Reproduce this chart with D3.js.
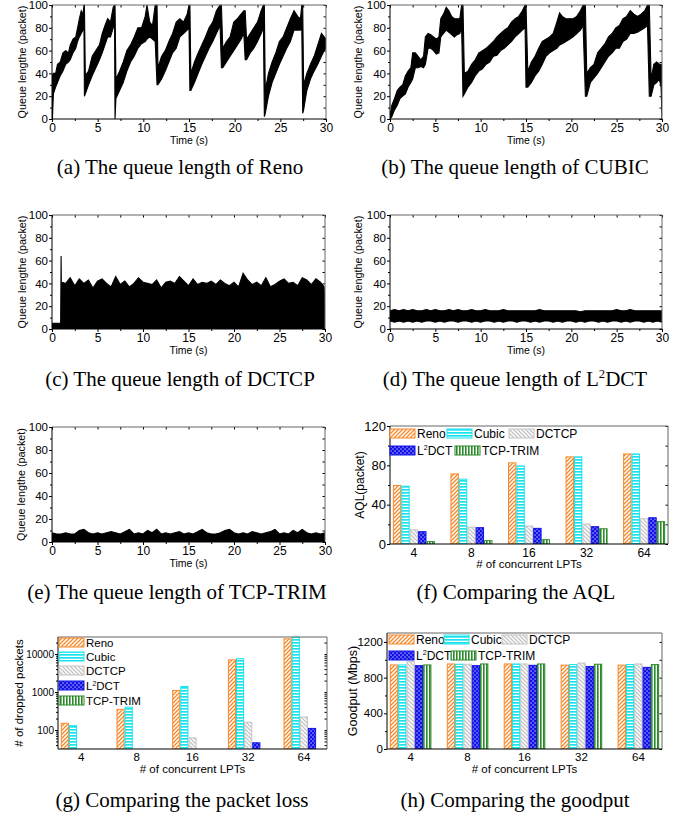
<!DOCTYPE html>
<html>
<head>
<meta charset="utf-8">
<script src="https://cdn.jsdelivr.net/npm/d3@7"></script>
<style>
  body { margin: 0; background: #fff; }
</style>
</head>
<body>
<svg id="chart" width="686" height="814"></svg>
<script>
// ---------- data ----------
const timeTicks = [0, 5, 10, 15, 20, 25, 30];
const timeMinor = [2.5, 7.5, 12.5, 17.5, 22.5, 27.5];
const queueTicks = [0, 20, 40, 60, 80, 100];
const queueMinor = [10, 30, 50, 70, 90];

// (a) Reno queue: envelope of the trace
const renoT  = [0, 0.05, 0.15, 0.4, 0.6, 0.9, 1.2, 1.5, 1.8, 2.0, 2.3, 2.6, 2.8, 3.0, 3.2, 3.4, 3.5, 3.55, 3.65, 4.0, 4.4, 4.8, 5.2, 5.5, 5.8, 6.1, 6.4, 6.7, 6.85, 6.9, 7.0, 7.4, 7.8, 8.2, 8.6, 9.0, 9.4, 9.8, 10.2, 10.4, 10.7, 11.0, 11.3, 11.5, 11.6, 12.0, 12.4, 12.8, 13.2, 13.6, 14.0, 14.4, 14.8, 15.0, 15.1, 15.2, 15.6, 16.0, 16.4, 16.8, 17.2, 17.6, 18.0, 18.4, 18.55, 18.7, 19.1, 19.5, 19.9, 20.3, 20.7, 21.0, 21.15, 21.3, 21.7, 22.1, 22.5, 22.9, 23.15, 23.25, 23.35, 23.7, 24.1, 24.5, 24.9, 25.3, 25.7, 26.1, 26.5, 26.9, 27.2, 27.35, 27.45, 27.55, 27.9, 28.3, 28.7, 29.1, 29.5, 29.8, 30.0];
const renoLo = [0, 0, 22, 28, 32, 38, 42, 48, 50, 52, 58, 62, 68, 72, 75, 78, 80, 20, 22, 30, 38, 45, 52, 58, 65, 72, 72, 80, 82, 0, 18, 25, 32, 42, 50, 55, 62, 66, 68, 70, 72, 70, 68, 30, 30, 35, 42, 50, 58, 62, 72, 75, 78, 80, 25, 25, 32, 40, 48, 55, 62, 68, 75, 82, 45, 45, 50, 55, 60, 65, 70, 75, 52, 52, 58, 62, 68, 75, 80, 2, 5, 20, 32, 40, 48, 55, 62, 68, 78, 78, 78, 80, 5, 8, 25, 35, 42, 48, 55, 60, 62];
const renoHi = [0, 38, 40, 40, 48, 50, 58, 60, 58, 65, 70, 72, 80, 88, 95, 92, 100, 100, 38, 42, 55, 60, 65, 75, 82, 88, 85, 98, 100, 100, 35, 42, 50, 60, 65, 72, 80, 80, 90, 100, 85, 82, 100, 100, 45, 55, 60, 68, 75, 85, 88, 85, 92, 100, 100, 40, 50, 58, 65, 72, 80, 85, 95, 100, 100, 62, 68, 72, 85, 88, 92, 95, 95, 70, 75, 80, 85, 95, 100, 100, 25, 40, 50, 58, 68, 72, 80, 88, 95, 90, 88, 100, 100, 30, 40, 48, 55, 65, 75, 72, 70];

// (b) CUBIC queue
const cubicT  = [0, 0.2, 0.5, 0.8, 1.1, 1.4, 1.7, 2.0, 2.3, 2.5, 2.8, 3.1, 3.4, 3.7, 3.9, 4.2, 4.5, 4.8, 5.1, 5.4, 5.6, 5.9, 6.2, 6.5, 6.8, 7.1, 7.4, 7.7, 7.9, 8.05, 8.2, 8.6, 9.0, 9.4, 9.8, 10.2, 10.6, 11.0, 11.4, 11.8, 12.2, 12.6, 13.0, 13.4, 13.8, 14.2, 14.6, 14.9, 15.0, 15.2, 15.6, 16.0, 16.4, 16.8, 17.2, 17.6, 18.0, 18.4, 18.7, 19.0, 19.4, 19.8, 20.2, 20.6, 21.0, 21.3, 21.55, 21.7, 22.1, 22.5, 22.9, 23.3, 23.7, 24.1, 24.5, 24.9, 25.3, 25.7, 26.1, 26.5, 26.9, 27.3, 27.7, 28.1, 28.4, 28.6, 28.8, 29.1, 29.4, 29.7, 29.9, 30.0];
const cubicLo = [0, 2, 8, 12, 18, 20, 22, 28, 32, 35, 45, 45, 46, 45, 48, 62, 62, 60, 57, 58, 72, 75, 78, 76, 74, 72, 74, 75, 80, 20, 22, 28, 32, 38, 42, 44, 48, 50, 55, 56, 60, 62, 65, 68, 72, 75, 78, 80, 28, 28, 32, 38, 42, 48, 55, 58, 60, 62, 65, 66, 68, 70, 72, 75, 78, 82, 20, 20, 32, 36, 40, 45, 50, 55, 58, 62, 62, 68, 70, 75, 75, 76, 78, 80, 82, 20, 20, 30, 32, 35, 28, 0];
const cubicHi = [2, 12, 18, 25, 28, 30, 38, 42, 45, 58, 58, 55, 52, 55, 72, 75, 74, 72, 70, 72, 88, 92, 98, 95, 90, 88, 88, 88, 100, 100, 40, 42, 48, 52, 58, 60, 62, 65, 68, 72, 75, 78, 80, 85, 88, 90, 95, 100, 100, 42, 50, 55, 62, 68, 70, 72, 75, 85, 93, 90, 88, 88, 88, 90, 95, 100, 100, 40, 45, 48, 58, 62, 66, 72, 75, 80, 82, 88, 90, 95, 92, 90, 92, 95, 100, 100, 35, 48, 50, 48, 48, 48];

// (c) DCTCP queue (upper edge)
const dctcpT  = [0, 0.95, 1.0, 1.05, 1.1, 1.5, 2, 2.5, 3, 3.5, 4, 4.5, 5, 5.5, 6, 6.5, 7, 7.5, 8, 8.5, 9, 9.5, 10, 10.5, 11, 11.5, 12, 12.5, 13, 13.5, 14, 14.5, 15, 15.5, 16, 16.5, 17, 17.5, 18, 18.5, 19, 19.5, 20, 20.5, 21, 21.5, 22, 22.5, 23, 23.5, 24, 24.5, 25, 25.5, 26, 26.5, 27, 27.5, 28, 28.5, 29, 29.5, 29.9, 30];
const dctcpHi = [5, 5, 64, 5, 41, 40, 45, 38, 44, 40, 43, 36, 42, 44, 40, 37, 46, 39, 42, 37, 40, 45, 41, 40, 39, 43, 36, 41, 42, 40, 46, 42, 38, 44, 39, 41, 40, 42, 39, 43, 40, 38, 41, 37, 49, 43, 39, 41, 38, 45, 37, 39, 42, 44, 40, 41, 38, 45, 43, 39, 44, 41, 37, 20];

// (d) L2DCT queue
const l2dctT  = [0, 0.5, 1, 1.5, 2, 2.5, 3, 3.5, 4, 4.5, 5, 5.5, 6, 6.5, 7, 7.5, 8, 8.5, 9, 9.5, 10, 10.5, 11, 11.5, 12, 12.5, 13, 13.5, 14, 14.5, 15, 15.5, 16, 16.5, 17, 17.5, 18, 18.5, 19, 19.5, 20, 20.5, 21, 21.5, 22, 22.5, 23, 23.5, 24, 24.5, 25, 25.5, 26, 26.5, 27, 27.5, 28, 28.5, 29, 29.5, 30];
const l2dctLo = [7, 6, 7, 6, 7, 6, 7, 6, 7, 7, 6, 7, 6, 7, 7, 6, 7, 7, 6, 7, 6, 7, 7, 6, 7, 6, 7, 7, 6, 7, 7, 6, 7, 6, 7, 7, 6, 7, 6, 7, 7, 6, 7, 6, 7, 7, 6, 7, 6, 7, 7, 6, 7, 6, 7, 7, 6, 7, 6, 7, 6];
const l2dctHi = [16, 17, 16, 17, 16, 17, 16, 16, 17, 16, 17, 16, 16, 17, 16, 17, 16, 16, 17, 16, 16, 17, 16, 16, 16, 17, 16, 16, 16, 16, 16, 16, 16, 17, 16, 16, 16, 16, 16, 16, 16, 16, 15, 16, 16, 16, 16, 16, 16, 16, 17, 16, 16, 17, 16, 16, 16, 16, 16, 16, 16];

// (e) TCP-TRIM queue (upper edge, from 0)
const trimT  = l2dctT;
const trimHi = [8, 7, 7, 8, 7, 7, 10, 11, 8, 7, 8, 7, 8, 9, 8, 7, 9, 11, 7, 8, 7, 10, 8, 11, 7, 8, 7, 8, 9, 7, 8, 7, 9, 11, 8, 7, 7, 8, 10, 11, 8, 7, 8, 7, 9, 8, 7, 8, 9, 11, 7, 8, 7, 10, 8, 11, 8, 7, 8, 7, 8];

// bar charts
const lpts = ["4", "8", "16", "32", "64"];
const protocols = ["Reno", "Cubic", "DCTCP", "L2DCT", "TCP-TRIM"];

const aqlReno  = [59.5, 71.3, 82.5, 88.6, 91.6];
const aqlCubic = [58.8, 65.9, 79.4, 88.6, 91.6];
const aqlDctcp = [14.5, 17.2, 18.3, 20.3, 25.7];
const aqlL2dct = [12.5, 16.6, 15.9, 17.6, 26.7];
const aqlTrim  = [2.4, 3.4, 4.4, 15.5, 22.7];

const dropReno  = [150, 350, 1100, 7000, 25000];
const dropCubic = [130, 400, 1400, 7500, 28000];
const dropDctcp = [null, null, 62, 160, 220];
const dropL2dct = [null, null, null, 46, 110];
const dropTrim  = [null, null, null, null, null];

const gpReno  = [942, 953, 953, 940, 940];
const gpCubic = [942, 950, 953, 946, 946];
const gpDctcp = [979, 950, 953, 963, 953];
const gpL2dct = [934, 934, 938, 925, 915];
const gpTrim  = [942, 953, 953, 950, 946];

const aqlTicks = [0, 40, 80, 120];
const aqlMinor = [20, 60, 100];
const dropTicks = [100, 1000, 10000];
const gpTicks = [0, 400, 800, 1200];
const gpMinor = [200, 600, 1000];

// ---------- drawing ----------
const SANS = "'Liberation Sans', Arial, Helvetica, sans-serif";
const SERIF = "'Liberation Serif', 'Times New Roman', serif";
const svg = d3.select("#chart");
const defs = svg.append("defs");

const colors = {
  "Reno": "#f7892a", "Cubic": "#19e3ee", "DCTCP": "#c4c4c4", "L2DCT": "#1212e8", "TCP-TRIM": "#2a8a2a"
};

// fill patterns, one per protocol
function pattern(id, w, h) {
  const p = defs.append("pattern").attr("id", id).attr("patternUnits", "userSpaceOnUse")
    .attr("width", w).attr("height", h);
  return p;
}
let p = pattern("pat-Reno", 4, 4);
p.append("rect").attr("width", 4).attr("height", 4).attr("fill", "#fff");
p.append("path").attr("d", "M0,4L4,0M-1,1L1,-1M3,5L5,3").attr("stroke", colors["Reno"]).attr("stroke-width", 1.3);
p = pattern("pat-Cubic", 4, 3);
p.append("rect").attr("width", 4).attr("height", 3).attr("fill", "#fff");
p.append("rect").attr("width", 4).attr("height", 1.7).attr("fill", colors["Cubic"]);
p = pattern("pat-DCTCP", 4, 4);
p.append("rect").attr("width", 4).attr("height", 4).attr("fill", "#fff");
p.append("path").attr("d", "M0,0L4,4M-1,3L1,5M3,-1L5,1").attr("stroke", colors["DCTCP"]).attr("stroke-width", 1.3);
p = pattern("pat-L2DCT", 4, 4);
p.append("rect").attr("width", 4).attr("height", 4).attr("fill", colors["L2DCT"]);
p.append("rect").attr("x", 0.5).attr("y", 0.5).attr("width", 1.1).attr("height", 1.1).attr("fill", "#fff");
p.append("rect").attr("x", 2.5).attr("y", 2.5).attr("width", 1.1).attr("height", 1.1).attr("fill", "#fff");
p = pattern("pat-TCP-TRIM", 3, 4);
p.append("rect").attr("width", 3).attr("height", 4).attr("fill", "#fff");
p.append("rect").attr("width", 1.6).attr("height", 4).attr("fill", colors["TCP-TRIM"]);

function styleAxis(sel, fs) {
  sel.select(".domain").remove();
  sel.selectAll("line").attr("stroke", "#000");
  sel.selectAll("text").attr("font-family", SANS).attr("font-size", fs).attr("fill", "#000");
}

// box frame with outward major/minor ticks left & bottom, inward ticks top & right
function frame(g, box, x, y, o) {
  const xfs = o.xfs, yfs = o.yfs;
  if (o.xMajor) {
    g.append("g").attr("transform", `translate(0,${box.y1})`)
      .call(d3.axisBottom(x).tickValues(o.xMajor).tickSize(3).tickPadding(1).tickFormat(d3.format("d")))
      .call(s => styleAxis(s, xfs));
    g.append("g").attr("transform", `translate(0,${box.y1})`)
      .call(d3.axisBottom(x).tickValues(o.xMinor).tickSize(2).tickFormat(""))
      .call(s => styleAxis(s, xfs));
    g.append("g").attr("transform", `translate(0,${box.y0})`)
      .call(d3.axisTop(x).tickValues(o.xMajor.concat(o.xMinor)).tickSize(-2.5).tickFormat(""))
      .call(s => styleAxis(s, xfs));
  } else {
    g.append("g").attr("transform", `translate(0,${box.y1})`)
      .call(d3.axisBottom(x).tickSize(0).tickPadding(4))
      .call(s => styleAxis(s, xfs));
  }
  g.append("g").attr("transform", `translate(${box.x0},0)`)
    .call(d3.axisLeft(y).tickValues(o.yMajor).tickSize(3).tickPadding(1).tickFormat(d3.format("d")))
    .call(s => styleAxis(s, yfs));
  g.append("g").attr("transform", `translate(${box.x0},0)`)
    .call(d3.axisLeft(y).tickValues(o.yMinor).tickSize(2).tickFormat(""))
    .call(s => styleAxis(s, yfs));
  g.append("g").attr("transform", `translate(${box.x1},0)`)
    .call(d3.axisRight(y).tickValues(o.yMajor.concat(o.yMinor)).tickSize(-2.5).tickFormat(""))
    .call(s => styleAxis(s, yfs));
  g.append("path")
    .attr("d", `M${box.x0},${box.y0}H${box.x1}V${box.y1}`)
    .attr("fill", "none").attr("stroke", "#666").attr("stroke-width", 1);
  g.append("path")
    .attr("d", `M${box.x0},${box.y0}V${box.y1}H${box.x1}`)
    .attr("fill", "none").attr("stroke", "#000").attr("stroke-width", 1);
}

function yTitle(g, txt, x, box, fs) {
  g.append("text")
    .attr("transform", `translate(${x},${(box.y0 + box.y1) / 2}) rotate(-90)`)
    .attr("text-anchor", "middle").attr("dy", "0.35em")
    .attr("font-family", SANS).attr("font-size", fs)
    .text(txt);
}
function xTitle(g, txt, box, fs, dy) {
  g.append("text")
    .attr("x", (box.x0 + box.x1) / 2).attr("y", box.y1 + dy)
    .attr("text-anchor", "middle")
    .attr("font-family", SANS).attr("font-size", fs)
    .text(txt);
}

// label with an optional superscript "2" (for L2DCT)
function richText(sel, txt, fs) {
  const i = txt.indexOf("L2DCT");
  if (i < 0) { sel.text(txt); return; }
  sel.append("tspan").text(txt.slice(0, i) + "L");
  sel.append("tspan").attr("font-size", fs * 0.6).attr("dy", -fs * 0.38).text("2");
  sel.append("tspan").attr("dy", fs * 0.38).text("DCT" + txt.slice(i + 5));
}

function caption(txt, cx, base) {
  const t = svg.append("text")
    .attr("x", cx).attr("y", base).attr("text-anchor", "middle")
    .attr("font-family", SERIF).attr("font-size", 21)
    .attr("fill", "#000");
  richText(t, txt, 21);
}

let clipN = 0;
function clip(box) {
  const id = "clip" + (clipN++);
  defs.append("clipPath").attr("id", id).append("rect")
    .attr("x", box.x0).attr("y", box.y0 - 0.5)
    .attr("width", box.x1 - box.x0).attr("height", box.y1 - box.y0 + 0.5);
  return `url(#${id})`;
}

function queuePanel(box, t, lo, hi, titleX) {
  const g = svg.append("g");
  const x = d3.scaleLinear().domain([0, 30]).range([box.x0, box.x1]);
  const y = d3.scaleLinear().domain([0, 100]).range([box.y1, box.y0]);
  const area = d3.area()
    .x((d, i) => x(t[i]))
    .y0((d, i) => y(lo ? lo[i] : 0))
    .y1((d, i) => y(hi[i]));
  g.append("path").datum(t)
    .attr("clip-path", clip(box))
    .attr("d", area)
    .attr("fill", "#000").attr("stroke", "#000").attr("stroke-width", 1.1)
    .attr("stroke-linejoin", "miter");
  frame(g, box, x, y, { xMajor: timeTicks, xMinor: timeMinor, yMajor: queueTicks, yMinor: queueMinor, xfs: 12, yfs: 11.5 });
  yTitle(g, "Queue lengthe (packet)", titleX, box, 10.8);
  xTitle(g, "Time (s)", box, 10.5, 25);
}

function barPanel(box, y, series, o) {
  const g = svg.append("g");
  const x0 = d3.scaleBand().domain(lpts).range([box.x0, box.x1]).paddingInner(0.27).paddingOuter(0.05);
  const x1 = d3.scaleBand().domain(protocols).range([0, x0.bandwidth()]);
  const base = y.range()[0];
  const rows = [];
  lpts.forEach((c, ci) => protocols.forEach((pname, pi) => {
    const v = series[pi][ci];
    if (v != null) rows.push({ c: c, p: pname, v: v });
  }));
  g.append("g").attr("clip-path", clip(box))
    .selectAll("rect").data(rows).join("rect")
    .attr("x", d => x0(d.c) + x1(d.p) + 0.5)
    .attr("y", d => y(d.v))
    .attr("width", x1.bandwidth() - 1)
    .attr("height", d => base - y(d.v))
    .attr("fill", d => `url(#pat-${d.p})`)
    .attr("stroke", d => colors[d.p]).attr("stroke-width", 1);
  frame(g, box, x0, y, { yMajor: o.yMajor, yMinor: o.yMinor, xfs: o.xfs, yfs: o.yfs });
  yTitle(g, o.yTitle, o.titleX, box, o.tfs);
  xTitle(g, "# of concurrent LPTs", box, o.xtfs, 24);
  // legend
  const lg = g.append("g");
  protocols.forEach((pname, i) => {
    const pos = o.legend[i];
    lg.append("rect").attr("x", pos[0]).attr("y", pos[1]).attr("width", 25).attr("height", 9)
      .attr("fill", `url(#pat-${pname})`).attr("stroke", colors[pname]).attr("stroke-width", 1);
    const t = lg.append("text").attr("x", pos[0] + 27).attr("y", pos[1] + 9)
      .attr("font-family", SANS).attr("font-size", o.lfs);
    richText(t, pname, o.lfs);
  });
}

// ----- panels -----
const boxA = { x0: 52, x1: 326, y0: 5, y1: 119 };
const boxB = { x0: 390, x1: 662, y0: 5, y1: 119 };
const boxC = { x0: 52, x1: 325, y0: 215, y1: 329 };
const boxD = { x0: 390, x1: 662, y0: 215, y1: 329 };
const boxE = { x0: 52, x1: 325, y0: 427, y1: 542 };
const boxF = { x0: 390, x1: 668, y0: 426, y1: 544 };
const boxG = { x0: 58, x1: 327, y0: 637, y1: 749 };
const boxH = { x0: 387, x1: 662, y0: 633, y1: 749 };

queuePanel(boxA, renoT, renoLo, renoHi, 22);
queuePanel(boxB, cubicT, cubicLo, cubicHi, 358);
queuePanel(boxC, dctcpT, null, dctcpHi, 22);
queuePanel(boxD, l2dctT, l2dctLo, l2dctHi, 358);
queuePanel(boxE, trimT, null, trimHi, 21);

barPanel(boxF, d3.scaleLinear().domain([0, 120]).range([boxF.y1, boxF.y0]),
  [aqlReno, aqlCubic, aqlDctcp, aqlL2dct, aqlTrim],
  { yMajor: aqlTicks, yMinor: aqlMinor, yTitle: "AQL(packet)", titleX: 360,
    xfs: 12, yfs: 13, tfs: 12, xtfs: 11.5, lfs: 12,
    legend: [[390, 429], [447, 429], [509, 429], [390, 446], [455, 446]] });

const dropMinor = [];
[10, 100, 1000, 10000].forEach(k => [2, 3, 4, 5, 6, 7, 8, 9].forEach(m => {
  const v = k * m; if (v > 31.6 && v < 28000) dropMinor.push(v);
}));
barPanel(boxG, d3.scaleLog().domain([31.6, 28000]).range([boxG.y1, boxG.y0]),
  [dropReno, dropCubic, dropDctcp, dropL2dct, dropTrim],
  { yMajor: dropTicks, yMinor: dropMinor, yTitle: "# of dropped packets", titleX: 19,
    xfs: 11.5, yfs: 10, tfs: 11.5, xtfs: 11.5, lfs: 11.5,
    legend: [[59, 638], [59, 652], [59, 666], [59, 681], [59, 696]] });

barPanel(boxH, d3.scaleLinear().domain([0, 1300]).range([boxH.y1, boxH.y0]),
  [gpReno, gpCubic, gpDctcp, gpL2dct, gpTrim],
  { yMajor: gpTicks, yMinor: gpMinor, yTitle: "Goodput (Mbps)", titleX: 353,
    xfs: 11.5, yfs: 11.5, tfs: 12.5, xtfs: 11.5, lfs: 12,
    legend: [[389, 635], [444, 635], [502, 635], [389, 651], [451, 651]] });

// ----- captions -----
caption("(a) The queue length of Reno", 180, 174);
caption("(b) The queue length of CUBIC", 515, 174);
caption("(c) The queue length of DCTCP", 180, 386);
caption("(d) The queue length of L2DCT", 515, 386);
caption("(e) The queue length of TCP-TRIM", 177, 599);
caption("(f) Comparing the AQL", 516, 599);
caption("(g) Comparing the packet loss", 182, 807);
caption("(h) Comparing the goodput", 515, 807);
</script>
</body>
</html>
